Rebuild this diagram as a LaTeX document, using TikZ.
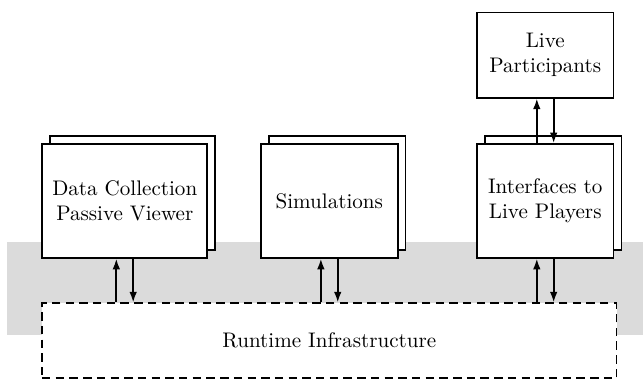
\documentclass[tikz,border=0pt]{standalone}
\usetikzlibrary{shapes,arrows.meta,shadows}

\begin{document}
\begin{tikzpicture}[>={Latex[length=5pt,width=3.6pt]},node distance=2cm,auto]
        % Define block styles
        \tikzstyle{block} = [rectangle, draw, thick, fill=white, align=center, minimum width=2.28cm, minimum height=1.9cm, copy shadow={shadow xshift=0.13cm, shadow yshift=0.13cm, draw, thick, fill=white}]
        \tikzstyle{peer} = [rectangle, draw, thick, fill=white, align=center, minimum width=2.28cm, minimum height=1.42cm]
        \tikzstyle{rti} = [rectangle, draw, thick, dash pattern=on 4pt off 2.5pt, fill=white, minimum width=9.58cm, minimum height=1.25cm]
        \tikzstyle{line} = [draw, thick, ->]

        \useasboundingbox (0,0) rectangle (10.72,-6.35);
        % Gray band
        \fill [gray!28] (0.12,-4.03) rectangle (10.72,-5.58);

        % Nodes
        \node [block, minimum width=2.75cm] (datacoll) at (2.08,-3.35) {Data Collection\\Passive Viewer};
        \node [block, right of=datacoll, node distance=3.41cm] (simulations) {Simulations};
        \node [block, right of=simulations, node distance=3.6cm] (interfaces) {Interfaces to\\Live Players};
        \node [peer, above of=interfaces, node distance=2.43cm] (live) {Live\\Participants};
        \node [rti, below of=simulations, node distance=2.33cm] (rti) {Runtime Infrastructure};

        % Arrows
        \path [line] ([xshift=-4pt]datacoll.south |- rti.north) -- ([xshift=-4pt]datacoll.south);
        \path [line] ([xshift=4pt]datacoll.south) -- ([xshift=4pt]datacoll.south |- rti.north);
        \path [line] ([xshift=-4pt]simulations.south |- rti.north) -- ([xshift=-4pt]simulations.south);
        \path [line] ([xshift=4pt]simulations.south) -- ([xshift=4pt]simulations.south |- rti.north);
        \path [line] ([xshift=-4pt]interfaces.south |- rti.north) -- ([xshift=-4pt]interfaces.south);
        \path [line] ([xshift=4pt]interfaces.south) -- ([xshift=4pt]interfaces.south |- rti.north);
        \path [line] ([xshift=-4pt]interfaces.north) -- ([xshift=-4pt]live.south);
        \path [line] ([xshift=4pt]live.south) -- ([xshift=4pt]interfaces.north);

\end{tikzpicture}
\end{document}
